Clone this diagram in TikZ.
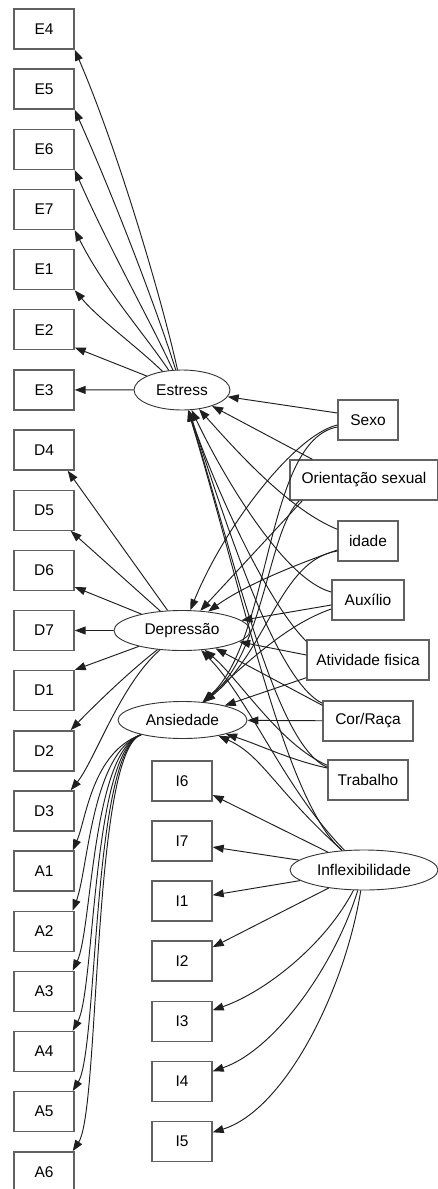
\documentclass[tikz,border=0pt]{standalone}
\usepackage{fontspec}
\setmainfont{Liberation Sans}
\usetikzlibrary{shapes.geometric,arrows.meta}
\begin{document}
\begin{tikzpicture}[x=1pt,y=1pt,
  font=\fontsize{15.5}{18}\selectfont,
  obs/.style={draw=black!62, line width=1.4pt, rectangle, minimum height=40pt,
              inner sep=0pt, fill=white},
  lat/.style={draw=black!80, line width=0.9pt, ellipse, minimum height=40pt,
              inner sep=0pt, fill=white},
  path/.style={draw=black!88, line width=0.95pt,
               -{Triangle[length=11pt,width=8pt]}},
]
\useasboundingbox (0,0) rectangle (438,-1189);

% indicator boxes, left column
\foreach \n [count=\k from 0] in {E4,E5,E6,E7,E1,E2,E3,D4,D5,D6,D7,D1,D2,D3,A1,A2,A3,A4,A5,A6}
  \node[obs, minimum width=60pt] (\n) at (44,{-29-60.15*\k}) {\n};

% indicator boxes of the inflexibility factor
\foreach \n [count=\k from 0] in {I6,I7,I1,I2,I3,I4,I5}
  \node[obs, minimum width=60pt] (\n) at (182,{-781-60.05*\k}) {\n};

% latent variables
\node[lat, minimum width=96pt]  (est)    at (182,-390)   {Estress};
\node[lat, minimum width=136pt] (dep)    at (182,-630.5) {Depressão};
\node[lat, minimum width=129pt, minimum height=37pt] (ans) at (182.5,-720) {Ansiedade};
\node[lat, minimum width=148pt] (inflex) at (364,-870)   {Inflexibilidade};

% covariates
\node[obs, minimum width=60pt]  (sexo)   at (368,-420) {Sexo};
\node[obs, minimum width=148pt] (orient) at (364,-480) {Orientação sexual};
\node[obs, minimum width=60pt]  (idade)  at (368,-541) {idade};
\node[obs, minimum width=72pt]  (aux)    at (368,-600) {Auxílio};
\node[obs, minimum width=122pt] (ativ)   at (368,-660) {Atividade fisica};
\node[obs, minimum width=90pt]  (cor)    at (368,-721) {Cor/Raça};
\node[obs, minimum width=80pt]  (trab)   at (368,-780) {Trabalho};

% loadings of Estress
\draw[path] (est) .. controls (162,-300) and (118,-150) .. (E4.south east);
\draw[path] (est) .. controls (157,-310) and (115,-200) .. (E5.south east);
\draw[path] (est) .. controls (150,-320) and (110,-250) .. (E6.south east);
\draw[path] (est) .. controls (143,-332) and (105,-290) .. (E7.south east);
\draw[path] (est) .. controls (135,-345) and (100,-320) .. (E1.south east);
\draw[path] (est) -- (E2.-30);
\draw[path] (est) -- (E3);

% loadings of Depressao
\draw[path] (dep) -- ([xshift=-7pt]D4.south east);
\draw[path] (dep) -- ([xshift=-4pt]D5.south east);
\draw[path] (dep) -- ([yshift=4pt]D6.south east);
\draw[path] (dep) -- (D7);
\draw[path] (dep) -- (D1.north east);
\draw[path] (dep) .. controls (125,-675) and (88,-712) .. ([xshift=-4pt]D2.north east);
\draw[path] (dep) .. controls (120,-685) and (95,-760) .. ([xshift=-4pt]D3.north east);

% loadings of Ansiedade
\draw[path] (ans) .. controls (92,-752) and (86,-820)  .. ([xshift=-2pt]A1.north east);
\draw[path] (ans) .. controls (92,-752) and (88,-870)  .. ([xshift=-2pt]A2.north east);
\draw[path] (ans) .. controls (92,-752) and (92,-930)  .. ([xshift=-2pt]A3.north east);
\draw[path] (ans) .. controls (92,-752) and (95,-990)  .. ([xshift=-2pt]A4.north east);
\draw[path] (ans) .. controls (92,-752) and (98,-1050) .. ([xshift=-2pt]A5.north east);
\draw[path] (ans) .. controls (92,-752) and (100,-1110) .. ([xshift=-2pt]A6.north east);

% loadings of Inflexibilidade
\draw[path] (inflex) -- ([yshift=-14pt]I6.east);
\draw[path] (inflex) -- ([yshift=-6pt]I7.east);
\draw[path] (inflex) -- ([yshift=6pt]I1.east);
\draw[path] (inflex) -- ([yshift=14pt]I2.east);
\draw[path] (inflex) .. controls (325,-945) and (265,-992)  .. ([yshift=11pt]I3.east);
\draw[path] (inflex) .. controls (335,-965) and (275,-1050) .. ([yshift=10pt]I4.east);
\draw[path] (inflex) .. controls (345,-990) and (285,-1110) .. ([yshift=9pt]I5.east);

% regressions on Estress
\draw[path] ([yshift=7pt]sexo.west) -- (est);
\draw[path] ([xshift=23pt]orient.north west) -- (est);
\draw[path] ([yshift=-9pt]idade.north west) .. controls (290,-510) and (240,-455) .. (est);
\draw[path] ([yshift=8pt]aux.west) .. controls (285,-580) and (225,-480) .. (est);
\draw[path] ([yshift=-2pt]ativ.north west) .. controls (265,-600) and (212,-480) .. (est);
\draw[path] ([yshift=-3pt]cor.north west) .. controls (275,-680) and (225,-520) .. (est);
\draw[path] ([yshift=-8pt]trab.north west) .. controls (275,-745) and (235,-560) .. (est);
\draw[path] (inflex) .. controls (285,-800) and (245,-600) .. (est);

% regressions on Depressao
\draw[path] ([yshift=-5pt]sexo.west) .. controls (295,-435) and (225,-525) .. (dep);
\draw[path] ([xshift=13pt]orient.south west) -- (dep);
\draw[path] ([yshift=-9pt]idade.west) .. controls (295,-565) and (245,-585) .. (dep);
\draw[path] ([yshift=-5pt]aux.west) -- (dep);
\draw[path] ([yshift=5pt]ativ.west) -- (dep);
\draw[path] ([yshift=-5pt]cor.north west) -- (dep);
\draw[path] ([yshift=-6pt]trab.north west) .. controls (280,-745) and (240,-680) .. (dep);
\draw[path] (inflex) .. controls (285,-790) and (250,-700) .. (dep);

% regressions on Ansiedade
\draw[path] ([yshift=-7pt]sexo.west) .. controls (265,-440) and (272,-640) .. (ans);
\draw[path] ([xshift=10pt]orient.south west) .. controls (268,-530) and (265,-650) .. (ans);
\draw[path] ([yshift=-10pt]idade.west) .. controls (280,-560) and (268,-650) .. (ans);
\draw[path] ([yshift=-9pt]aux.west) .. controls (285,-625) and (245,-665) .. (ans);
\draw[path] ([yshift=3pt]ativ.south west) -- (ans);
\draw[path] (cor) -- (ans);
\draw[path] ([yshift=12pt]trab.west) .. controls (290,-760) and (260,-745) .. (ans);
\draw[path] (inflex) .. controls (275,-790) and (262,-755) .. (ans);
\end{tikzpicture}
\end{document}
